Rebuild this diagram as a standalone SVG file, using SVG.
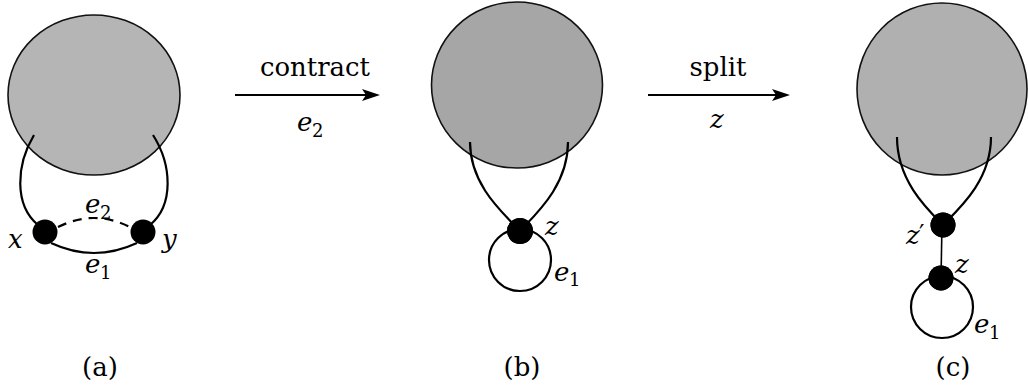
<svg xmlns="http://www.w3.org/2000/svg" width="1028" height="391" viewBox="0 0 1028 391">
<style>
.blob{stroke:#111;stroke-width:1.6}
.edge{fill:none;stroke:#000;stroke-width:2.2}
.dash{fill:none;stroke:#000;stroke-width:2.2;stroke-dasharray:9 7}
.node{fill:#000}
text{font-family:'DejaVu Serif','Liberation Serif',serif;fill:#000}
.t{font-size:26px}
.m{font-style:italic;font-size:26px}
.s{font-size:18px}
.arr{stroke:#000;stroke-width:2.2;fill:none}
.head{fill:#000}
</style>
<g id="panel-a">
<ellipse class="blob" cx="94" cy="95" rx="86" ry="80" fill="#b5b5b5"/>
<g id="node-x"><circle class="node" cx="45" cy="232" r="12.5"/><text class="m" x="8" y="248">x</text></g>
<g id="node-y"><circle class="node" cx="143" cy="232" r="12.5"/><text class="m" x="162" y="248">y</text></g>
<text class="m" x="85" y="213">e</text><text class="s" x="100" y="219">2</text>
<text class="m" x="85" y="273">e</text><text class="s" x="100" y="279">1</text>
<text class="t" x="100" y="376" text-anchor="middle">(a)</text>
</g>
<g id="panel-b">
<ellipse class="blob" cx="517" cy="85" rx="85.5" ry="83" fill="#a6a6a6"/>
<g id="node-z-b"><circle class="node" cx="520" cy="231" r="13"/><text class="m" x="545" y="235">z</text></g>
<text class="m" x="554" y="281">e</text><text class="s" x="569" y="286">1</text>
<text class="t" x="522" y="376" text-anchor="middle">(b)</text>
</g>
<g id="panel-c">
<ellipse class="blob" cx="942" cy="89" rx="85" ry="86" fill="#b0b0b0"/>
<g id="node-zp"><circle class="node" cx="943" cy="225" r="12.5"/><text class="m" x="906" y="244">z</text><text style="font-size:24px" x="919" y="242">′</text></g>
<g id="node-z-c"><circle class="node" cx="941" cy="278" r="12.5"/><text class="m" x="955" y="273">z</text></g>
<text class="m" x="974" y="333">e</text><text class="s" x="989" y="339">1</text>
<text class="t" x="953" y="376" text-anchor="middle">(c)</text>
</g>
<g id="connectors">
<path class="edge" d="M34,135 C16,165 14,205 38,225"/>
<path class="edge" d="M153,135 C172,165 174,205 150,225"/>
<path class="dash" d="M58,227 Q94,209 130,227"/>
<path class="edge" d="M51,243 Q94,263 137,243"/>
<path class="edge" d="M470,142 C470,185 503,213 520,231"/>
<path class="edge" d="M568,142 C568,185 537,213 520,231"/>
<circle class="edge" cx="520" cy="260" r="31"/>
<path class="edge" d="M897,137 C897,180 926,208 943,225"/>
<path class="edge" d="M991,137 C991,180 960,208 943,225"/>
<path class="edge" style="stroke-width:1.6" d="M942,225 L941,278"/>
<circle class="edge" cx="942" cy="307" r="31"/>
<circle class="node" cx="520" cy="231" r="13"/>
<circle class="node" cx="941" cy="278" r="12.5"/>
<circle class="node" cx="943" cy="225" r="12.5"/>
<g id="op-contract">
<line class="arr" x1="235" y1="95" x2="366" y2="95"/>
<path class="head" d="M362,89 L380,95 L362,101 L366,95 Z"/>
<text class="t" x="315" y="76" text-anchor="middle" textLength="110" lengthAdjust="spacingAndGlyphs">contract</text>
<text class="m" x="297" y="131">e</text><text class="s" x="312" y="137">2</text>
</g>
<g id="op-split">
<line class="arr" x1="648" y1="95" x2="776" y2="95"/>
<path class="head" d="M772,89 L790,95 L772,101 L776,95 Z"/>
<text class="t" x="718" y="76" text-anchor="middle" textLength="57" lengthAdjust="spacingAndGlyphs">split</text>
<text class="m" x="710" y="128">z</text>
</g>
</g>
</svg>
